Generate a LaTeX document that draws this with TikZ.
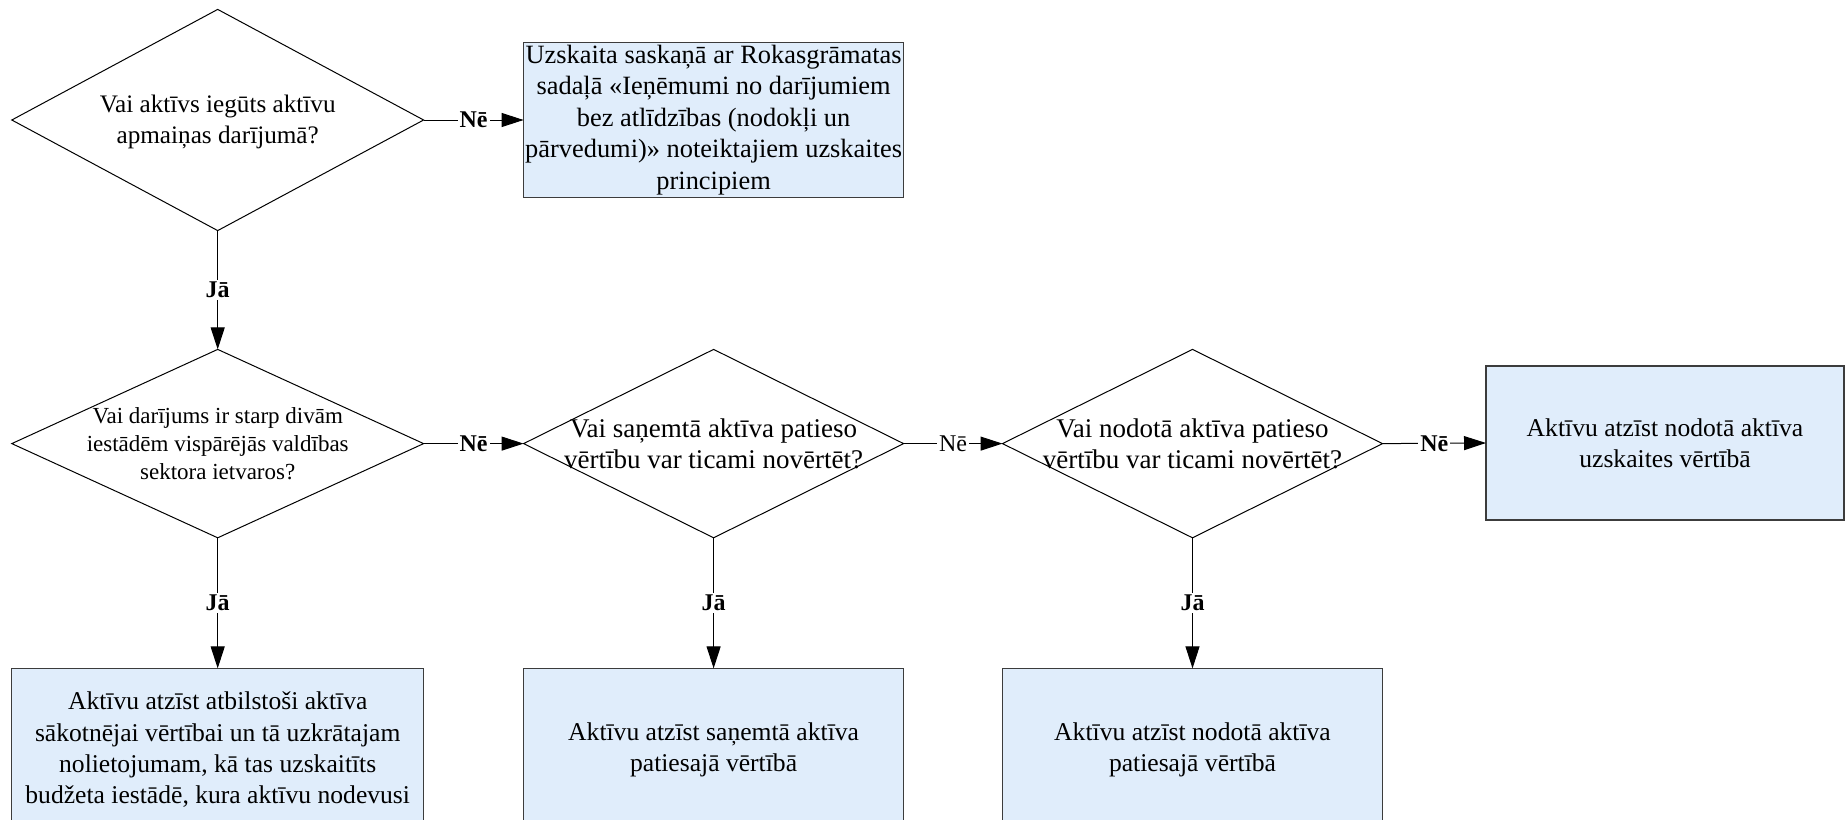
\documentclass[tikz,border=0pt]{standalone}
\usepackage{fontspec}
\setmainfont{Liberation Serif}
\usetikzlibrary{shapes.geometric,arrows.meta}
\definecolor{boxfill}{RGB}{224,237,251}
\definecolor{boxline}{RGB}{60,60,60}
\newcommand{\fs}[2]{\fontsize{#1pt}{#2pt}\selectfont}
\begin{document}
\begin{tikzpicture}[x=0.5pt,y=-0.5pt,
  dec/.style={diamond,draw=black,line width=0.5pt,inner sep=0pt,outer sep=0pt},
  txt/.style={align=center,inner sep=0pt},
  procbox/.style={rectangle,draw=boxline,fill=boxfill,line width=0.6pt,inner sep=0pt,outer sep=0pt,align=center},
  arr/.style={-{Triangle[length=11pt,width=7pt]},line width=0.5pt},
  lbl/.style={fill=white,inner sep=1pt,font=\bfseries\fs{12}{14}},
  lblr/.style={fill=white,inner sep=1pt,font=\fs{12}{14}}]
\useasboundingbox (0,0) rectangle (1845,819);

% decisions
\node[dec,minimum width=205.9pt,minimum height=110.6pt] (d1) at (217.7,120) {};
\node[txt,font=\fs{12.6}{15.6}] (d1t) at ([yshift=-1pt]d1.center) {Vai aktīvs iegūts aktīvu\\apmaiņas darījumā?};
\node[dec,minimum width=205.9pt,minimum height=94.2pt] (d2) at (217.7,443.6) {};
\node[txt,font=\fs{11.5}{14.1}] (d2t) at (d2.center) {Vai darījums ir starp divām\\iestādēm vispārējās valdības\\sektora ietvaros?};
\node[dec,minimum width=190pt,minimum height=94.2pt] (d3) at (713.6,443.6) {};
\node[txt,font=\fs{13.5}{15.6}] (d3t) at (d3.center) {Vai saņemtā aktīva patieso\\vērtību var ticami novērtēt?};
\node[dec,minimum width=190pt,minimum height=94.2pt] (d4) at (1192.5,443.6) {};
\node[txt,font=\fs{13.5}{15.6}] (d4t) at (d4.center) {Vai nodotā aktīva patieso\\vērtību var ticami novērtēt?};

% process boxes
\node[procbox,minimum width=190pt,minimum height=77.6pt,font=\fs{13.2}{15.7}] (b0) at (713.6,120) {Uzskaita saskaņā ar Rokasgrāmatas\\sadaļā «Ieņēmumi no darījumiem\\bez atlīdzības (nodokļi un\\pārvedumi)» noteiktajiem uzskaites\\principiem};
\node[procbox,minimum width=179pt,minimum height=77pt,font=\fs{12.8}{15.6}] (br) at (1665,443) {Aktīvu atzīst nodotā aktīva\\uzskaites vērtībā};
\node[procbox,minimum width=205.9pt,minimum height=81.3pt,font=\fs{12.8}{15.6}] (b1) at (217.7,749.7) {Aktīvu atzīst atbilstoši aktīva\\sākotnējai vērtībai un tā uzkrātajam\\nolietojumam, kā tas uzskaitīts\\budžeta iestādē, kura aktīvu nodevusi};
\node[procbox,minimum width=190pt,minimum height=81.3pt,font=\fs{12.8}{15.6}] (b2) at (713.6,749.7) {Aktīvu atzīst saņemtā aktīva\\patiesajā vērtībā};
\node[procbox,minimum width=190pt,minimum height=81.3pt,font=\fs{12.8}{15.6}] (b3) at (1192.5,749.7) {Aktīvu atzīst nodotā aktīva\\patiesajā vērtībā};

% connectors
\draw[arr] (d1.east) -- node[lbl] {Nē} (b0.west);
\draw[arr] (d1.south) -- node[lbl] {Jā} (d2.north);
\draw[arr] (d2.east) -- node[lbl] {Nē} (d3.west);
\draw[arr] (d3.east) -- node[lblr] {Nē} (d4.west);
\draw[arr] (d4.east) -- node[lbl] {Nē} (br.west);
\draw[arr] (d2.south) -- node[lbl] {Jā} (b1.north);
\draw[arr] (d3.south) -- node[lbl] {Jā} (b2.north);
\draw[arr] (d4.south) -- node[lbl] {Jā} (b3.north);
\end{tikzpicture}
\end{document}
